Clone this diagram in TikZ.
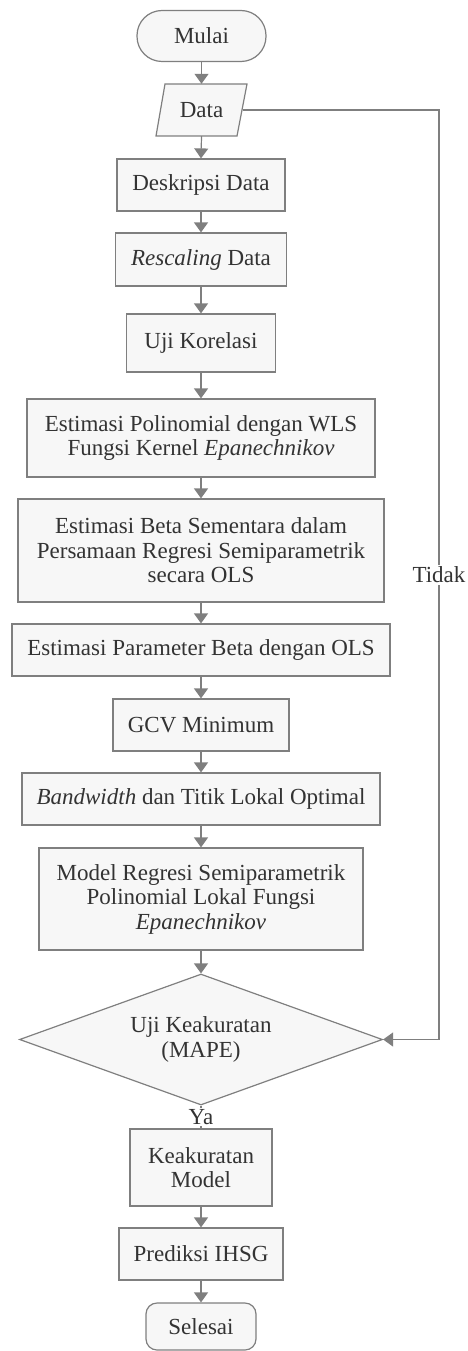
\documentclass[tikz,border=0pt]{standalone}
\usepackage{fontspec}
\setmainfont{Liberation Serif}
\usetikzlibrary{shapes.geometric,arrows.meta}
\definecolor{lc}{HTML}{7F7F7F}
\definecolor{fc}{HTML}{F7F7F7}
\definecolor{tc}{HTML}{333333}
\begin{document}
\begin{tikzpicture}[x=1pt,y=1pt,
  every node/.style={font=\fontsize{23}{24.5}\selectfont, text=tc},
  box/.style={draw=lc, fill=fc, line width=1.2pt, rectangle, align=center, inner sep=0pt},
  dia/.style={draw=lc, fill=fc, line width=1.2pt, diamond, aspect=2.77, align=center, inner sep=0pt},
  arr/.style={draw=lc, line width=1.2pt, -{Triangle[width=14pt,length=10pt]}},
  ln/.style={draw=lc, line width=1.2pt},
  lab/.style={fill=white, inner sep=2pt}]
\useasboundingbox (0,0) rectangle (467,-1351);
\node[box, rounded corners=25pt, minimum width=129pt, minimum height=51pt] (mulai) at (201.5,-36) {Mulai};
\filldraw[draw=lc, fill=fc, line width=1.2pt] (165,-84) -- (247,-84) -- (237,-136) -- (156,-136) -- cycle;
\node[inner sep=0pt, minimum width=82pt, minimum height=52pt] (data) at (201.5,-110) {Data};
\node[box, minimum width=168pt, minimum height=52pt] (desk) at (201,-185) {Deskripsi Data};
\node[box, minimum width=171pt, minimum height=53pt] (resc) at (201,-259.5) {\textit{Rescaling} Data};
\node[box, minimum width=149pt, minimum height=58pt] (uji) at (201,-343) {Uji Korelasi};
\node[box, minimum width=348pt, minimum height=78pt] (estpol) at (201,-438) {Estimasi Polinomial dengan WLS\\Fungsi Kernel \textit{Epanechnikov}};
\node[box, minimum width=366pt, minimum height=103pt] (estbeta) at (201,-550.5) {Estimasi Beta Sementara dalam\\Persamaan Regresi Semiparametrik\\secara OLS};
\node[box, minimum width=378pt, minimum height=52pt] (estpar) at (201,-650) {Estimasi Parameter Beta dengan OLS};
\node[box, minimum width=176pt, minimum height=52pt] (gcv) at (201,-725) {GCV Minimum};
\node[box, minimum width=358pt, minimum height=52pt] (band) at (201,-799) {\textit{Bandwidth} dan Titik Lokal Optimal};
\node[box, minimum width=324pt, minimum height=102pt] (model) at (201,-899) {Model Regresi Semiparametrik\\Polinomial Lokal Fungsi\\\textit{Epanechnikov}};
\node[dia, minimum width=363pt, minimum height=131pt] (uk) at (201,-1039.5) {Uji Keakuratan\\(MAPE)};
\node[box, minimum width=142pt, minimum height=77pt] (keak) at (201,-1167.5) {Keakuratan\\Model};
\node[box, minimum width=164pt, minimum height=52pt] (pred) at (201,-1254) {Prediksi IHSG};
\node[box, rounded corners=11pt, minimum width=110pt, minimum height=47pt] (sel) at (201,-1326.5) {Selesai};
\coordinate (c1) at (439,-110);
\coordinate (c2) at (439,-1039.5);
\draw[arr] (mulai.south) -- (mulai.south |- data.north);
\draw[arr] (data.south) -- (desk.north);
\draw[arr] (desk) -- (resc);
\draw[arr] (resc) -- (uji);
\draw[arr] (uji) -- (estpol);
\draw[arr] (estpol) -- (estbeta);
\draw[arr] (estbeta) -- (estpar);
\draw[arr] (estpar) -- (gcv);
\draw[arr] (gcv) -- (band);
\draw[arr] (band) -- (model);
\draw[arr] (model.south) -- (uk.north);
\draw[ln] (uk.south) -- (keak.north);
\node[lab, inner sep=1pt] (ya) at (201,-1117) {Ya};
\draw[arr] (keak) -- (pred);
\draw[arr] (pred) -- (sel);
\draw[arr] (data.east) -- (c1) -- node[lab, pos=0.5] (tidak) {Tidak} (c2) -- (uk.east);
\end{tikzpicture}
\end{document}
